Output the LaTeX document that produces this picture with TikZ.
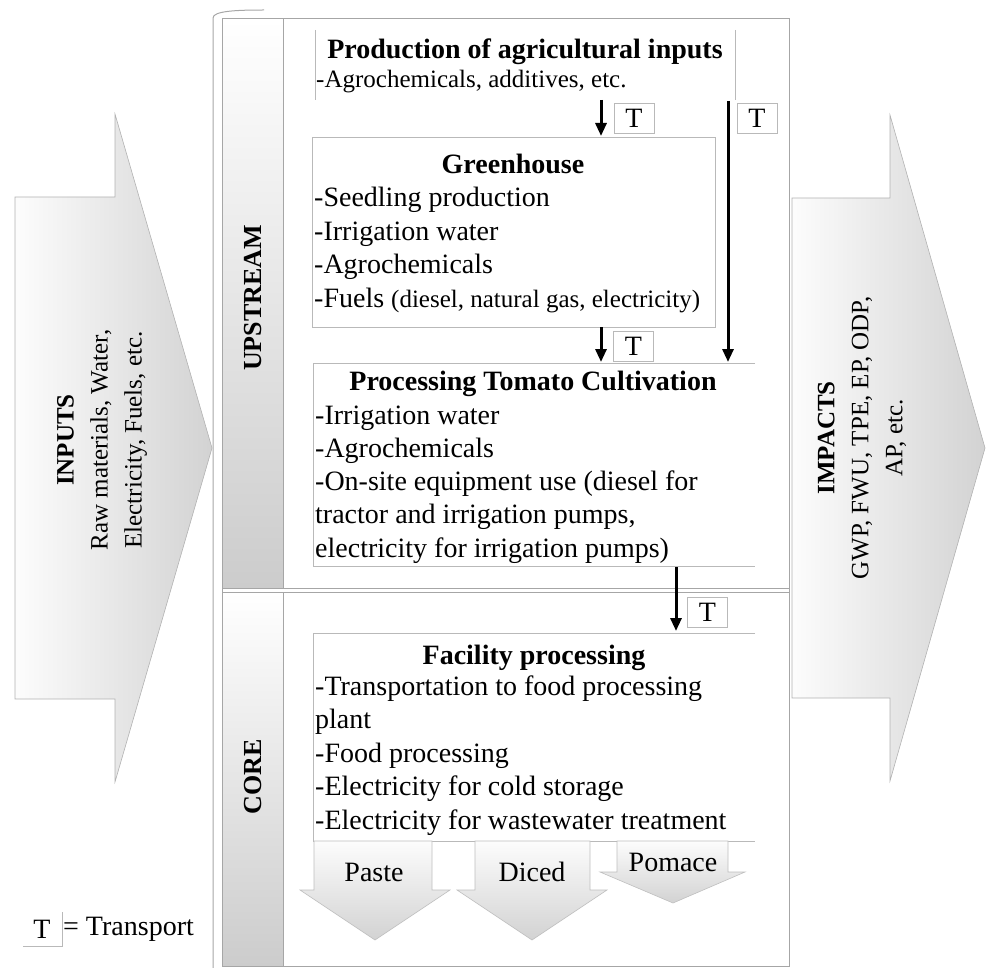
\documentclass[tikz,border=0pt]{standalone}
\usepackage{fontspec}
\setmainfont{Liberation Serif}
\usepackage{tikz}
\usetikzlibrary{arrows.meta,positioning}
\tikzset{
flow/.style={line width=3pt, -{Triangle[width=11pt,length=13pt]}}, % black transport arrows
tbox/.style={draw=gray!55, minimum width=40pt, minimum height=30pt, inner sep=0pt, font=\fontsize{28}{33}\selectfont}, % the little T boxes
item/.style={anchor=base west, inner sep=0pt, font=\fontsize{28}{33}\selectfont}, % one line of a list
titletxt/.style={anchor=base, inner sep=0pt, font=\fontsize{28}{33}\selectfont\bfseries},
boxline/.style={draw=gray!55, line width=0.8pt},
frameline/.style={draw=gray!70, line width=1pt},
sidebar/.style={draw=gray!70, line width=1pt, top color=white, bottom color=gray!40},
bigarrow/.style={draw=gray!60, line width=0.6pt, left color=gray!2, middle color=gray!5, right color=gray!35},
outarrow/.style={draw=gray!50, line width=0.6pt, top color=gray!2, middle color=gray!6, bottom color=gray!35},
sidetxt/.style={rotate=90, align=center, inner sep=0pt, font=\fontsize{25}{34}\selectfont}
}

\begin{document}
\begin{tikzpicture}[x=1pt,y=-1pt]
    \useasboundingbox (0,0) rectangle (987,968);
    % inputs and impacts
    \draw[bigarrow] (15,197) -- (115,197) -- (115,114) -- (212,448) -- (115,782) -- (115,699) -- (15,699) -- cycle;
    \node[sidetxt] (inputs) at (102,440) {\textbf{INPUTS}\\Raw materials, Water,\\Electricity, Fuels, etc.};
    \draw[bigarrow] (792,198) -- (890,198) -- (890,115) -- (985,448) -- (890,781) -- (890,698) -- (792,698) -- cycle;
    \node[sidetxt] (impacts) at (862,438) {\textbf{IMPACTS}\\GWP, FWU, TPE, EP, ODP,\\AP, etc.};

    % frame
    \draw[frameline] (264,10) .. controls (236,10) and (213,11) .. (213,18) -- (213,968);
    \draw[frameline] (222,19) rectangle (789,966);
    \draw[sidebar] (222,19) rectangle (283,588);
    \draw[sidebar] (222,592) rectangle (283,966);
    \draw[frameline] (222,588) -- (789,588) (222,592) -- (789,592);
    \node[sidetxt, font=\fontsize{26}{30}\selectfont\bfseries] (upstream) at (253,298) {UPSTREAM};
    \node[sidetxt, font=\fontsize{26}{30}\selectfont\bfseries] (core) at (253,777) {CORE};

    % production of inputs
    \draw[boxline] (315,30) -- (315,100) (735,30) -- (735,100);
    \node[titletxt] (prodtitle) at (525,59) {Production of agricultural inputs};
    \node[item, font=\fontsize{25}{30}\selectfont] (prod1) at (316,88) {-Agrochemicals, additives, etc.};

    % greenhouse
    \draw[boxline] (312,137) rectangle (715,327);
    \node[titletxt] (ghtitle) at (513,174) {Greenhouse};
    \foreach \t [count=\i] in {-Seedling production, -Irrigation water, -Agrochemicals,
        {-Fuels {\fontsize{25}{30}\selectfont(diesel, natural gas, electricity)}}}
        \node[item] (gh\i) at (314,{207+33.4*(\i-1)}) {\t};

    % cultivation
    \draw[boxline] (755,363) -- (313,363) -- (313,566) -- (755,566);
    \node[titletxt] (cultitle) at (533,390) {Processing Tomato Cultivation};
    \foreach \t [count=\i] in {-Irrigation water, -Agrochemicals, {-On-site equipment use (diesel for},
        {tractor and irrigation pumps,}, {electricity for irrigation pumps)}}
        \node[item] (cul\i) at (315,{424+33.3*(\i-1)}) {\t};

    % facility
    \draw[boxline] (755,633) -- (313,633) -- (313,841) -- (755,841);
    \node[titletxt] (factitle) at (534,664) {Facility processing};
    \foreach \t [count=\i] in {-Transportation to food processing, plant, -Food processing,
        -Electricity for cold storage, -Electricity for wastewater treatment}
        \node[item] (fac\i) at (315,{695+33.5*(\i-1)}) {\t};

    % products
    \draw[outarrow] (314,841) -- (432,841) -- (432,890) -- (450,890) -- (375,940) -- (300,890) -- (314,890) -- cycle;
    \node[font=\fontsize{28}{33}\selectfont] (paste) at (374,872) {Paste};
    \draw[outarrow] (475,841) -- (590,841) -- (590,890) -- (607,890) -- (532,940) -- (457,890) -- (475,890) -- cycle;
    \node[font=\fontsize{28}{33}\selectfont] (diced) at (532,872) {Diced};
    \draw[outarrow] (617,841) -- (728,841) -- (728,872) -- (745,872) -- (673,903) -- (600,872) -- (617,872) -- cycle;
    \node[font=\fontsize{28}{33}\selectfont] (pomace) at (673,862) {Pomace};

    % transport
    \coordinate (prodout) at (601,100);
    \coordinate (ghin) at (601,136);
    \coordinate (prodside) at (728,101);
    \coordinate (culin) at (728,362);
    \coordinate (ghout) at (601,327);
    \coordinate (culinb) at (601,362);
    \coordinate (culout) at (676,567);
    \coordinate (facin) at (676,631);
    \draw[flow] (prodout) -- (ghin);
    \node[tbox] (t1) at (634,118) {T};
    \draw[flow] (prodside) -- (culin);
    \node[tbox] (t2) at (757,118.5) {T};
    \draw[flow] (ghout) -- (culinb);
    \node[tbox] (t3) at (633.5,346) {T};
    \draw[flow] (culout) -- (facin);
    \node[tbox] (t4) at (707.5,612) {T};

    % key
    \node[font=\fontsize{28}{33}\selectfont, inner sep=0pt] (tkey) at (42,929) {T};
    \draw[boxline] (62,912) -- (62,946) -- (23,946);
    \node[anchor=west, inner sep=0pt, font=\fontsize{28}{33}\selectfont] (key) at (63,929) {= Transport};
\end{tikzpicture}
\end{document}
